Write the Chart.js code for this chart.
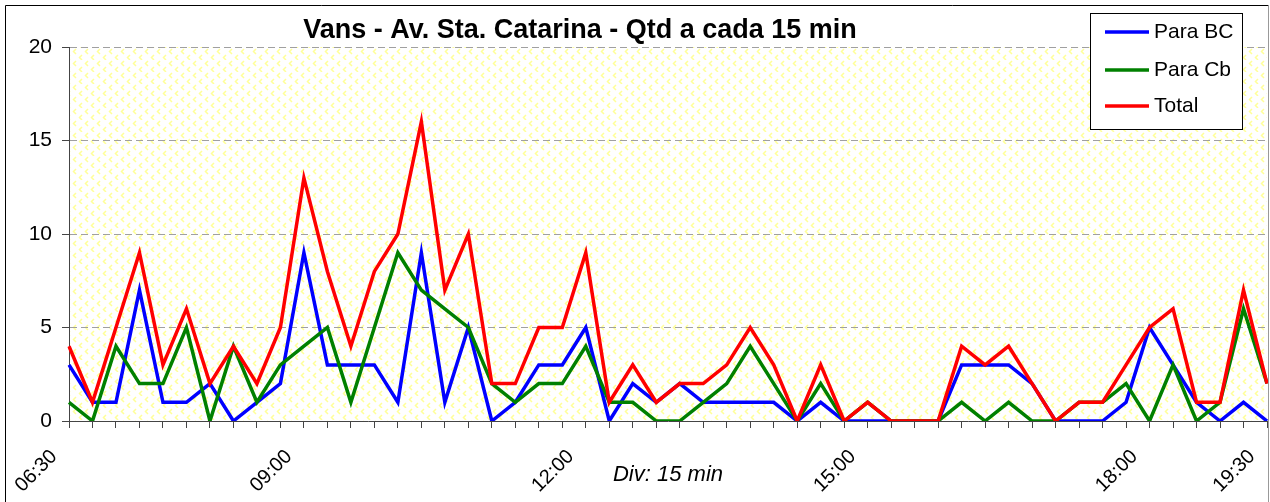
<!DOCTYPE html>
<html>
<head>
<meta charset="utf-8">
<script src="https://cdn.jsdelivr.net/npm/chart.js@4"></script>
<style>
  html, body { margin: 0; padding: 0; background: #fff; }
  #wrap { width: 1270px; height: 502px; }
</style>
</head>
<body>
<div id="wrap"><canvas id="vansChart" width="1270" height="502"></canvas></div>
<script>
// 15 min intervals, only some of them carry a label on the axis
const timeLabels = [
  "06:30", "", "", "", "", "", "", "", "", "",
  "09:00", "", "", "", "", "", "", "", "", "", "", "",
  "12:00", "", "", "", "", "", "", "", "", "", "", "",
  "15:00", "", "", "", "", "", "", "", "", "", "", "",
  "18:00", "", "", "", "", "19:30"
];

const paraBC = [
  3, 1, 1, 7, 1, 1, 2, 0, 1, 2, 9, 3, 3, 3, 1, 9,
  1, 5, 0, 1, 3, 3, 5, 0, 2, 1, 2, 1, 1, 1, 1, 0, 1,
  0, 0, 0, 0, 0, 3, 3, 3, 2, 0, 0, 0, 1, 5, 3, 1, 0, 1, 0
];
const paraCb = [
  1, 0, 4, 2, 2, 5, 0, 4, 1, 3, 4, 5, 1, 5, 9, 7,
  6, 5, 2, 1, 2, 2, 4, 1, 1, 0, 0, 1, 2, 4, 2, 0, 2,
  0, 1, 0, 0, 0, 1, 0, 1, 0, 0, 1, 1, 2, 0, 3, 0, 1, 6, 2
];
const total = [
  4, 1, 5, 9, 3, 6, 2, 4, 2, 5, 13, 8, 4, 8, 10, 16,
  7, 10, 2, 2, 5, 5, 9, 1, 3, 1, 2, 2, 3, 5, 3, 0, 3,
  0, 1, 0, 0, 0, 4, 3, 4, 2, 0, 1, 1, 3, 5, 6, 1, 1, 7, 2
];

const yTicks = [0, 5, 10, 15, 20];
const FONT = "'Liberation Sans', Arial, sans-serif";

// pale yellow chevron pattern used by the plot area
function makePattern() {
  const c = document.createElement("canvas");
  c.width = 12;
  c.height = 12;
  const g = c.getContext("2d");
  g.fillStyle = "#ffffff";
  g.fillRect(0, 0, 12, 12);
  g.strokeStyle = "#ffff99";
  g.lineWidth = 1.5;
  g.beginPath();
  g.moveTo(4, 1); g.lineTo(1.5, 3.5); g.lineTo(4, 6);
  g.moveTo(10, 7); g.lineTo(7.5, 9.5); g.lineTo(10, 12);
  g.stroke();
  return g.createPattern(c, "repeat");
}

const framePlugin = {
  id: "frame",
  beforeDraw(chart) {
    const { ctx, chartArea: a } = chart;
    ctx.save();
    ctx.fillStyle = makePattern();
    ctx.fillRect(a.left, a.top, a.right - a.left, a.bottom - a.top);
    ctx.restore();
  },
  afterDraw(chart) {
    const ctx = chart.ctx;
    ctx.save();
    // outer frame
    ctx.lineWidth = 1;
    ctx.strokeStyle = "#000";
    ctx.beginPath();
    ctx.moveTo(5.5, 502);
    ctx.lineTo(5.5, 5.5);
    ctx.lineTo(1268.5, 5.5);
    ctx.stroke();
    ctx.strokeStyle = "#999";
    ctx.beginPath();
    ctx.moveTo(1268.5, 5.5);
    ctx.lineTo(1268.5, 502);
    ctx.stroke();

    // title
    ctx.fillStyle = "#000";
    ctx.font = "bold 27px " + FONT;
    ctx.textAlign = "center";
    ctx.textBaseline = "middle";
    ctx.fillText("Vans - Av. Sta. Catarina - Qtd a cada 15 min", 580, 31);

    // legend box
    const bx = 1090, by = 13, bw = 152, bh = 116;
    ctx.fillStyle = "#fff";
    ctx.fillRect(bx, by, bw, bh);
    ctx.strokeStyle = "#000";
    ctx.strokeRect(bx + 0.5, by + 0.5, bw, bh);
    ctx.font = "21px " + FONT;
    ctx.textAlign = "left";
    const rows = [32, 70, 106];
    chart.data.datasets.forEach((ds, i) => {
      ctx.strokeStyle = ds.borderColor;
      ctx.lineWidth = 3.5;
      ctx.beginPath();
      ctx.moveTo(1105, rows[i]);
      ctx.lineTo(1149, rows[i]);
      ctx.stroke();
      ctx.fillStyle = "#000";
      ctx.fillText(ds.label, 1154, rows[i]);
    });
    ctx.restore();
  }
};

new Chart(document.getElementById("vansChart"), {
  type: "line",
  data: {
    labels: timeLabels,
    datasets: [
      { label: "Para BC", data: paraBC, borderColor: "#0000ff", order: 2 },
      { label: "Para Cb", data: paraCb, borderColor: "#008000", order: 1 },
      { label: "Total", data: total, borderColor: "#ff0000", order: 0 }
    ]
  },
  options: {
    responsive: false,
    animation: false,
    layout: { padding: { top: 47, right: 3, left: 0, bottom: 0 } },
    elements: {
      line: { borderWidth: 3.5, tension: 0, fill: false, borderJoinStyle: "miter" },
      point: { radius: 0, hoverRadius: 0 }
    },
    plugins: {
      legend: { display: false },
      title: { display: false },
      tooltip: { enabled: false }
    },
    scales: {
      x: {
        offset: false,
        afterFit(scale) {
          scale.height = 81;
          scale.paddingLeft = 0;
          scale.paddingRight = 0;
        },
        grid: {
          drawOnChartArea: false,
          drawTicks: true,
          tickLength: 7,
          tickColor: "#444"
        },
        border: { display: true, color: "#444", width: 1 },
        ticks: {
          autoSkip: false,
          maxRotation: 45,
          minRotation: 45,
          padding: 17,
          labelOffset: -15,
          color: "#000",
          font: { family: FONT, size: 20 }
        },
        title: {
          display: true,
          text: "Div: 15 min",
          color: "#000",
          font: { family: FONT, size: 22, style: "italic" },
          padding: { top: 0, bottom: 14 }
        }
      },
      y: {
        min: yTicks[0],
        max: yTicks[yTicks.length - 1],
        afterFit(scale) { scale.width = 69; },
        afterBuildTicks(scale) { scale.ticks = yTicks.map(v => ({ value: v })); },
        grid: {
          color: ctx => (ctx.tick && ctx.tick.value === 0 ? "rgba(0,0,0,0)" : "#a0a0a0"),
          tickLength: 7,
          tickColor: "#444",
          tickBorderDash: []
        },
        border: { display: true, color: "#444", width: 1, dash: [7, 4] },
        ticks: {
          padding: 10,
          color: "#000",
          font: { family: FONT, size: 21 }
        }
      }
    }
  },
  plugins: [framePlugin]
});
</script>
</body>
</html>
